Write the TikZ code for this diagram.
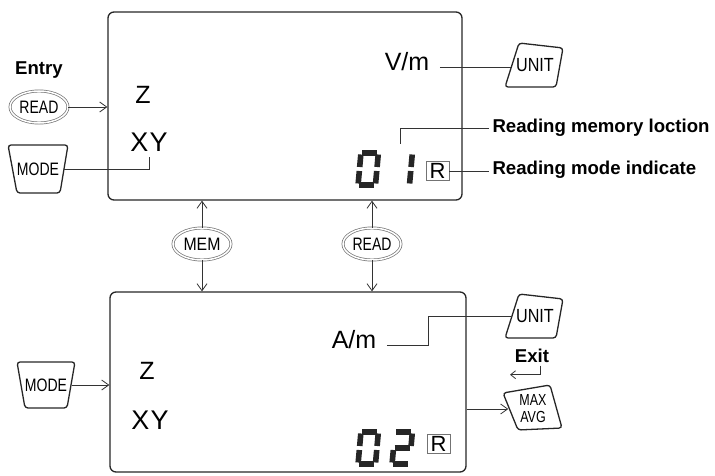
\documentclass[tikz,border=0pt]{standalone}
\usepackage{fontspec}
\setmainfont{Liberation Sans}
\usepackage{graphicx}
\usetikzlibrary{arrows.meta,shapes.geometric}

\definecolor{cor_linha}{gray}{0.2}
\definecolor{cor_borda}{gray}{0.45}

\newcommand{\estreito}[2][0.78]{\scalebox{#1}[1]{#2}}
\newcommand{\tecla}[5]{% contorno de tecla em volta do no #1
    \draw[keyline] ([shift={#2}]#1.center) -- ([shift={#3}]#1.center)
        -- ([shift={#4}]#1.center) -- ([shift={#5}]#1.center) -- cycle;}
\newcommand{\digito}[3]{% canto, canto, segmentos
    \begin{scope}[shift={(#1,#2)}, xslant=0.09]
        \coordinate (a1) at (4,35.2);  \coordinate (a2) at (19,35.2);
        \coordinate (g1) at (4,19);    \coordinate (g2) at (19,19);
        \coordinate (d1) at (4,2.8);   \coordinate (d2) at (19,2.8);
        \coordinate (f1) at (2.8,21);  \coordinate (f2) at (2.8,33.5);
        \coordinate (e1) at (2.8,4.5); \coordinate (e2) at (2.8,17);
        \coordinate (b1) at (20.2,21); \coordinate (b2) at (20.2,33.5);
        \coordinate (c1) at (20.2,4.5);\coordinate (c2) at (20.2,17);
        \foreach \s in {#3} {
            \draw[seg] (\s1) -- (\s2);
        }
    \end{scope}}

\begin{document}
\begin{tikzpicture}[x=1pt, y=1pt]
        \tikzset{
            lcd/.style={draw=black!85, line width=1.3pt, rounded corners=6pt},
            oval/.style={
                ellipse,
                draw=cor_borda,
                double=white,
                double distance=1.5pt,
                line width=0.7pt,
                minimum width=58pt,
                minimum height=32pt,
                inner sep=0pt,
                font=\fontsize{18}{18}\selectfont
            },
            keytxt/.style={inner ysep=0pt, font=\fontsize{19}{19}\selectfont},
            keyline/.style={draw=black!85, line width=1.3pt, rounded corners=3pt},
            conn/.style={cor_linha, line width=0.8pt},
            seta/.style={conn, -{Straight Barb[length=7pt,width=10pt]}},
            seg/.style={line width=5.6pt, black!85},
            rbox/.style={
                draw=cor_borda,
                line width=0.8pt,
                minimum width=23pt,
                minimum height=19pt,
                inner sep=0pt,
                font=\fontsize{22}{22}\selectfont
            },
            big/.style={font=\fontsize{25}{25}\selectfont},
            bigxy/.style={font=\fontsize{27}{27}\selectfont},
            legenda/.style={font=\bfseries\fontsize{18.6}{18.6}\selectfont}
        }
        \useasboundingbox (0,0) rectangle (715,475);

        % VISOR DE CIMA
        \node[lcd, minimum width=354pt, minimum height=188pt] (lcd1) at (285,369) {};
        \node[big] (z1) at (143,380) {Z};
        \node[bigxy] (xy1) at (149,333) {X\kern1pt Y};
        \node[big] (vm1) at (407,413) {V/m};
        \digito{355}{287}{a,b,c,d,e,f}
        \digito{389}{287}{b,c}
        \node[rbox] (rbox1) at (437.5,304) {R};

        \node[legenda, anchor=base] (entry) at (39,400) {Entry};
        \node[oval] (read1) at (39,368) {\estreito{READ}};
        \node[keytxt, font=\fontsize{18}{18}\selectfont, inner xsep=5pt] (mode1) at (38,306) {\estreito{MODE}};
        \tecla{mode1}{(-30,24)}{(30,24)}{(22,-24)}{(-21,-24)}

        \node[keytxt, inner xsep=5pt] (unit1) at (535,410) {\estreito[0.85]{UNIT}};
        \tecla{unit1}{(-16,22)}{(28,17)}{(21,-22)}{(-30,-22)}

        \node[legenda, anchor=base west] (memloc) at (489,342) {Reading memory loction};
        \node[legenda, anchor=base west] (modeind) at (489,301) {Reading mode indicate};
        \coordinate (memtick) at (400,331);

        \draw[seta] (read1.east) -- (read1.east -| lcd1.west);
        \draw[conn] (mode1.east) -| ([yshift=-2pt]xy1.south);
        \draw[conn, shorten <=7pt] ([yshift=-5pt]vm1.east) -- ([yshift=-5pt]vm1.east -| unit1.west);
        \draw[conn] (memloc.west) -| (memtick);
        \draw[conn] (rbox1.east) -- (rbox1.east -| modeind.west);

        % BOTOES DO MEIO
        \node[oval] (mem) at (202,231) {\estreito[0.88]{MEM}};
        \node[oval] (read2) at (372,231) {\estreito{READ}};

        % VISOR DE BAIXO
        \node[lcd, minimum width=356pt, minimum height=180pt] (lcd2) at (288,93) {};
        \node[big] (z2) at (147,104) {Z};
        \node[bigxy] (xy2) at (150,55) {X\kern1pt Y};
        \node[big] (am) at (354,135) {A/m};
        \digito{355}{8}{a,b,c,d,e,f}
        \digito{389}{8}{a,b,g,e,d}
        \node[rbox] (rbox2) at (438.5,31) {R};

        \node[keytxt, font=\fontsize{18}{18}\selectfont, inner xsep=5pt] (mode2) at (46,90) {\estreito{MODE}};
        \tecla{mode2}{(-29,23)}{(29,23)}{(21,-23)}{(-21,-23)}

        \node[keytxt, inner xsep=4pt] (unit2) at (535,159) {\estreito[0.85]{UNIT}};
        \tecla{unit2}{(-16,22)}{(28,17)}{(21,-22)}{(-30,-22)}

        \node[legenda, anchor=base] (exit) at (532,113) {Exit};
        \node[keytxt, inner xsep=11pt, align=center, font=\fontsize{16}{17}\selectfont] (maxavg) at (533,66)
            {\estreito{MAX}\\\estreito{AVG}};
        \tecla{maxavg}{(-30,16)}{(17,24)}{(29,-19)}{(-15,-21)}
        \coordinate (dobra) at (428,159);

        \draw[seta] (mem.north) -- (mem.north |- lcd1.south);
        \draw[seta] (mem.south) -- (mem.south |- lcd2.north);
        \draw[seta] (read2.north) -- (read2.north |- lcd1.south);
        \draw[seta] (read2.south) -- (read2.south |- lcd2.north);
        \draw[seta] (mode2.east) -- (mode2.east -| lcd2.west);
        \draw[conn, shorten <=7pt] ([yshift=-5pt]am.east) -| (dobra) -- (unit2.west);
        \draw[conn, -{Straight Barb[length=5pt,width=8pt]}] ([xshift=8pt]exit.south) -- ++(0,-9) -- ++(-30,0);
        \draw[seta] (maxavg.west -| lcd2.east) -- (maxavg.west);

    \end{tikzpicture}
\end{document}
